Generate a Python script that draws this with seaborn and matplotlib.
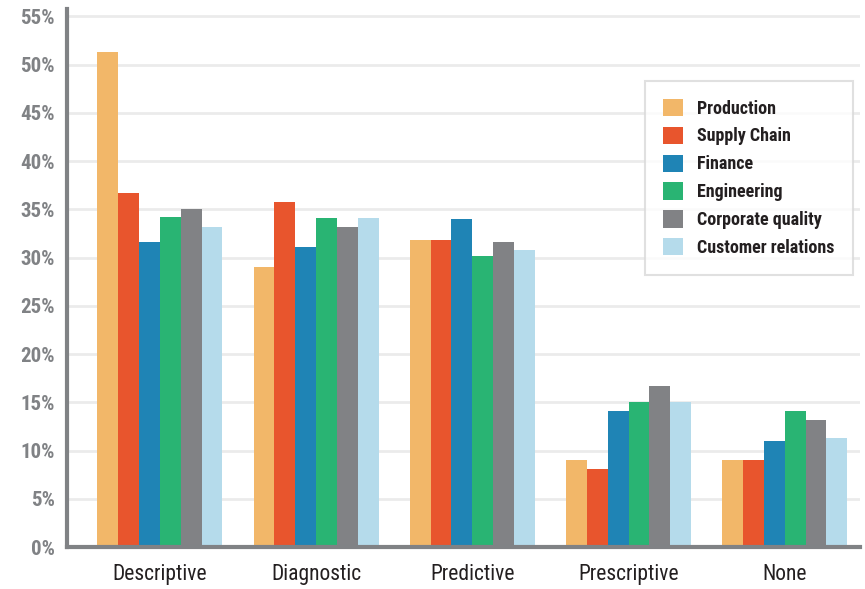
import pandas as pd
import matplotlib.pyplot as plt
import seaborn as sns
from matplotlib import font_manager

categories = ["Descriptive", "Diagnostic", "Predictive", "Prescriptive", "None"]
departments = ["Production", "Supply Chain", "Finance", "Engineering",
               "Corporate quality", "Customer relations"]

production = [51.3, 29.0, 31.8, 9.0, 9.0]
supply_chain = [36.7, 35.8, 31.8, 8.1, 9.0]
finance = [31.6, 31.1, 34.0, 14.1, 11.0]
engineering = [34.2, 34.1, 30.2, 15.0, 14.1]
corporate_quality = [35.0, 33.2, 31.6, 16.7, 13.2]
customer_relations = [33.2, 34.1, 30.8, 15.0, 11.3]

colors = ["#f2b769", "#e8552d", "#1f84b5", "#29b473", "#818285", "#b5dbeb"]
y_ticks = [0, 5, 10, 15, 20, 25, 30, 35, 40, 45, 50, 55]


def pick_font():
    names = {f.name for f in font_manager.fontManager.ttflist}
    for name in ["Liberation Sans Narrow", "Roboto Condensed", "Roboto"]:
        if name in names:
            return name
    return "DejaVu Sans"


def main():
    series = [production, supply_chain, finance, engineering,
              corporate_quality, customer_relations]
    rows = []
    for dept, values in zip(departments, series):
        for cat, v in zip(categories, values):
            rows.append({"category": cat, "department": dept, "value": v})
    df = pd.DataFrame(rows)

    sns.set_style("white")
    font = pick_font()
    plt.rcParams["font.family"] = [font, "DejaVu Sans"]

    fig = plt.figure(figsize=(8.65, 5.89), dpi=100)
    ax = fig.add_axes([0.0775, 0.0713, 0.9165, 0.914])

    sns.barplot(data=df, x="category", y="value", hue="department",
                order=categories, hue_order=departments, palette=colors,
                width=0.8, saturation=1, linewidth=0, ax=ax)

    ax.set_ylim(0, 55.8)
    ax.set_xlim(-0.594, 4.48)
    ax.set_yticks(y_ticks)
    ax.set_yticklabels([f"{t}%" for t in y_ticks])
    ax.yaxis.grid(True, color="#ebebeb", linewidth=2)
    ax.set_axisbelow(True)
    ax.set_xlabel("")
    ax.set_ylabel("")

    for side in ["top", "right"]:
        ax.spines[side].set_visible(False)
    for side in ["left", "bottom"]:
        ax.spines[side].set_color("#808285")
        ax.spines[side].set_linewidth(3)

    ax.tick_params(axis="y", length=0, pad=9, labelsize=15,
                   labelcolor="#808285")
    ax.tick_params(axis="x", length=0, pad=12, labelsize=15.5,
                   labelcolor="#231f20")
    for lab in ax.get_yticklabels():
        lab.set_fontweight("bold")

    leg = ax.legend(loc="upper left", bbox_to_anchor=(0.729, 0.866),
                    borderaxespad=0, frameon=True, fancybox=False,
                    fontsize=13, handlelength=1.1, handleheight=1.1,
                    handletextpad=0.8, labelspacing=0.5, borderpad=1.0)
    leg.get_frame().set_edgecolor("#d9d9d9")
    leg.get_frame().set_linewidth(1.5)
    for t in leg.get_texts():
        t.set_color("#231f20")
        t.set_fontweight("bold")

    fig.savefig("out.png", dpi=100)


if __name__ == '__main__':
    main()
